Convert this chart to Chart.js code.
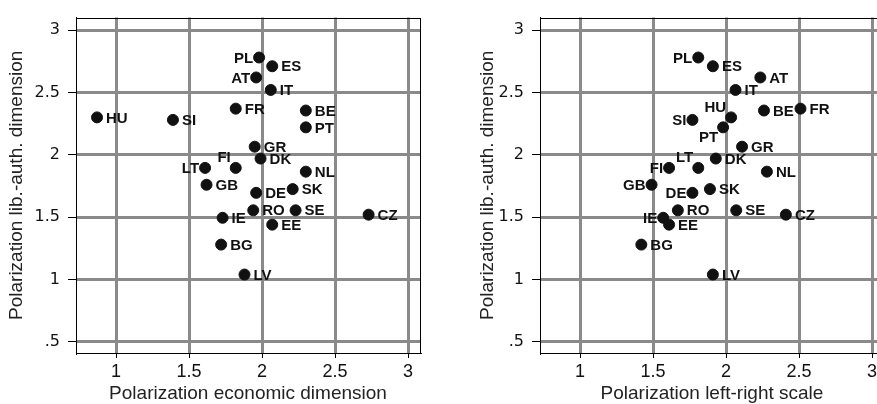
<!DOCTYPE html>
<html>
<head>
<meta charset="utf-8">
<script src="https://cdn.jsdelivr.net/npm/chart.js@4.4.0/dist/chart.umd.min.js"></script>
<style>
html, body { margin: 0; padding: 0; background: #fff; overflow: hidden; width: 877px; height: 404px; }
#left { position: absolute; left: 0; top: 0; }
#right { position: absolute; left: 440px; top: 0; }
</style>
</head>
<body>
<canvas id="left" width="440" height="404"></canvas>
<canvas id="right" width="460" height="404"></canvas>
<script>
const countries = ['PL', 'ES', 'AT', 'IT', 'FR', 'HU', 'SI', 'BE', 'PT', 'GR', 'DK', 'FI',
                   'LT', 'NL', 'GB', 'DE', 'SK', 'RO', 'SE', 'CZ', 'IE', 'EE', 'BG', 'LV'];
const econDim = [1.98, 2.07, 1.96, 2.06, 1.82, 0.87, 1.39, 2.30, 2.30, 1.95, 1.99, 1.82,
                 1.61, 2.30, 1.62, 1.96, 2.21, 1.94, 2.23, 2.73, 1.73, 2.07, 1.72, 1.88];
const leftRight = [1.81, 1.91, 2.235, 2.065, 2.51, 2.035, 1.77, 2.26, 1.98, 2.11, 1.93, 1.61,
                   1.81, 2.28, 1.49, 1.77, 1.89, 1.67, 2.07, 2.41, 1.57, 1.61, 1.42, 1.91];
const libAuth = [2.78, 2.71, 2.62, 2.52, 2.37, 2.30, 2.28, 2.355, 2.22, 2.065, 1.97, 1.895,
                 1.895, 1.865, 1.76, 1.695, 1.725, 1.555, 1.555, 1.52, 1.495, 1.44, 1.28, 1.04];
const xTicks = [1, 1.5, 2, 2.5, 3];
const yTicks = [0.5, 1, 1.5, 2, 2.5, 3];

// marker label clock positions, 3 o'clock if not listed
const leftLabelPos = {PL: 9, AT: 9, LT: 9, FI: 11};
const rightLabelPos = {PL: 9, SI: 9, FI: 9, GB: 9, DE: 9, IE: 9, HU: 11, LT: 11, PT: 7};

const gridGray = '#8a8a8a';
const fmt = v => (v < 1 ? String(v).replace(/^0/, '') : String(v));

const framePlugin = {
    id: 'frame',
    afterDraw(chart) {
        const a = chart.chartArea, ctx = chart.ctx;
        ctx.save();
        ctx.strokeStyle = '#000';
        ctx.lineWidth = 1;
        ctx.strokeRect(Math.round(a.left) + 0.5, Math.round(a.top) + 0.5,
                       Math.round(a.right - a.left), Math.round(a.bottom - a.top));
        ctx.restore();
    }
};

function labelPlugin(posMap) {
    return {
        id: 'markerLabels',
        afterDatasetsDraw(chart) {
            const ctx = chart.ctx;
            const meta = chart.getDatasetMeta(0);
            ctx.save();
            ctx.font = 'bold 15px "Liberation Sans", Arial, sans-serif';
            ctx.fillStyle = '#111';
            ctx.textBaseline = 'middle';
            meta.data.forEach((pt, i) => {
                const name = countries[i];
                const pos = posMap[name] || 3;
                let x = pt.x, y = pt.y + 1;
                if (pos === 3) { ctx.textAlign = 'left'; x += 9; }
                else if (pos === 9) { ctx.textAlign = 'right'; x -= 6; }
                else if (pos === 11) { ctx.textAlign = 'right'; x -= 5; y -= 11; }
                else if (pos === 7) { ctx.textAlign = 'right'; x -= 5; y += 9; }
                ctx.fillText(name, x, y);
            });
            ctx.restore();
        }
    };
}

function makePanel(id, xs, xTitle, yAxisWidth, rightPad, yTitlePad, posMap) {
    const ctx = document.getElementById(id).getContext('2d');
    return new Chart(ctx, {
        type: 'scatter',
        data: {
            datasets: [{
                data: xs.map((v, i) => ({x: v, y: libAuth[i]})),
                backgroundColor: '#111',
                borderColor: '#111',
                borderWidth: 1,
                pointRadius: 5.5,
                pointHoverRadius: 5.5
            }]
        },
        options: {
            responsive: false,
            animation: false,
            layout: { padding: { top: 10, right: rightPad, bottom: 0, left: 0 } },
            plugins: { legend: { display: false }, tooltip: { enabled: false } },
            scales: {
                x: {
                    type: 'linear',
                    min: 0.726,
                    max: 3.082,
                    afterBuildTicks: s => { s.ticks = xTicks.map(v => ({value: v})); },
                    afterFit: s => { s.height = 51; },
                    ticks: {
                        callback: v => fmt(v),
                        autoSkip: false,
                        maxRotation: 0,
                        padding: 3,
                        color: '#111',
                        font: { family: '"Liberation Sans", Arial, sans-serif', size: 18 }
                    },
                    grid: { color: gridGray, lineWidth: 3, tickColor: '#000', tickWidth: 1, tickLength: 5 },
                    border: { color: '#000', width: 1 },
                    title: {
                        display: true,
                        text: xTitle,
                        color: '#222',
                        padding: { top: 0, bottom: 1 },
                        font: { family: '"Liberation Sans", Arial, sans-serif', size: 19, lineHeight: 1 }
                    }
                },
                y: {
                    type: 'linear',
                    min: 0.411,
                    max: 3.1,
                    afterBuildTicks: s => { s.ticks = yTicks.map(v => ({value: v})); },
                    afterFit: s => { s.width = yAxisWidth; },
                    ticks: {
                        callback: v => fmt(v),
                        autoSkip: false,
                        padding: 8,
                        color: '#111',
                        font: { family: '"DejaVu Sans", sans-serif', size: 16 }
                    },
                    grid: { color: gridGray, lineWidth: 3, tickColor: '#000', tickWidth: 1, tickLength: 8 },
                    border: { color: '#000', width: 1 },
                    title: {
                        display: true,
                        text: 'Polarization lib.-auth. dimension',
                        color: '#222',
                        padding: { top: yTitlePad, bottom: 0 },
                        font: { family: '"Liberation Sans", Arial, sans-serif', size: 19, lineHeight: 1 }
                    }
                }
            }
        },
        plugins: [framePlugin, labelPlugin(posMap)]
    });
}

makePanel('left', econDim, 'Polarization economic dimension', 76, 20, 7.5, leftLabelPos);
makePanel('right', leftRight, 'Polarization left-right scale', 100, 16, 38.5, rightLabelPos);
</script>
</body>
</html>
